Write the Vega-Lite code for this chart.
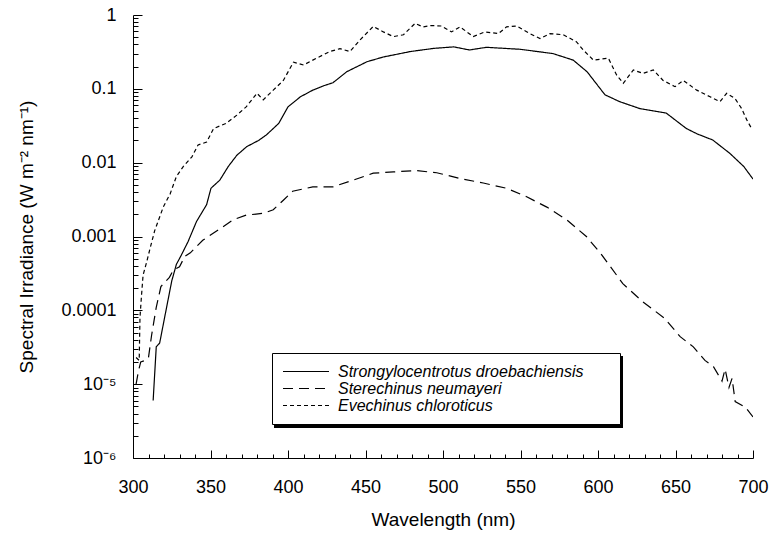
{
  "$schema": "https://vega.github.io/schema/vega-lite/v6.json",
  "width": 620,
  "height": 443,
  "autosize": {"type": "none"},
  "padding": {"left": 133, "top": 15, "right": 18, "bottom": 75},
  "background": "white",
  "config": {
    "view": {"stroke": null},
    "font": "Liberation Sans",
    "axis": {
      "domainColor": "#000000",
      "tickColor": "#000000",
      "labelColor": "#000000",
      "titleColor": "#000000",
      "labelFontSize": 18,
      "titleFontSize": 19,
      "titleFontWeight": "normal",
      "grid": false,
      "labelOverlap": false,
      "labelFlush": false
    }
  },
  "data": {
    "values": [
      {"species": "Strongylocentrotus droebachiensis", "wl": 313, "v": 0.000006},
      {"species": "Strongylocentrotus droebachiensis", "wl": 315, "v": 0.000032},
      {"species": "Strongylocentrotus droebachiensis", "wl": 317.2, "v": 0.000036},
      {"species": "Strongylocentrotus droebachiensis", "wl": 320.5, "v": 0.000082},
      {"species": "Strongylocentrotus droebachiensis", "wl": 325, "v": 0.00025},
      {"species": "Strongylocentrotus droebachiensis", "wl": 328, "v": 0.00042},
      {"species": "Strongylocentrotus droebachiensis", "wl": 331, "v": 0.00055},
      {"species": "Strongylocentrotus droebachiensis", "wl": 335.5, "v": 0.00085},
      {"species": "Strongylocentrotus droebachiensis", "wl": 341, "v": 0.0016},
      {"species": "Strongylocentrotus droebachiensis", "wl": 347.5, "v": 0.0027},
      {"species": "Strongylocentrotus droebachiensis", "wl": 350.3, "v": 0.0045},
      {"species": "Strongylocentrotus droebachiensis", "wl": 356, "v": 0.0058},
      {"species": "Strongylocentrotus droebachiensis", "wl": 361.5, "v": 0.0089},
      {"species": "Strongylocentrotus droebachiensis", "wl": 367, "v": 0.0126},
      {"species": "Strongylocentrotus droebachiensis", "wl": 373.4, "v": 0.0165},
      {"species": "Strongylocentrotus droebachiensis", "wl": 381, "v": 0.02},
      {"species": "Strongylocentrotus droebachiensis", "wl": 386, "v": 0.0237},
      {"species": "Strongylocentrotus droebachiensis", "wl": 394, "v": 0.034},
      {"species": "Strongylocentrotus droebachiensis", "wl": 400, "v": 0.057},
      {"species": "Strongylocentrotus droebachiensis", "wl": 408, "v": 0.078},
      {"species": "Strongylocentrotus droebachiensis", "wl": 416, "v": 0.096},
      {"species": "Strongylocentrotus droebachiensis", "wl": 423, "v": 0.11},
      {"species": "Strongylocentrotus droebachiensis", "wl": 429, "v": 0.121},
      {"species": "Strongylocentrotus droebachiensis", "wl": 438, "v": 0.171},
      {"species": "Strongylocentrotus droebachiensis", "wl": 451, "v": 0.233},
      {"species": "Strongylocentrotus droebachiensis", "wl": 461.5, "v": 0.27},
      {"species": "Strongylocentrotus droebachiensis", "wl": 479, "v": 0.32},
      {"species": "Strongylocentrotus droebachiensis", "wl": 494, "v": 0.353},
      {"species": "Strongylocentrotus droebachiensis", "wl": 507, "v": 0.37},
      {"species": "Strongylocentrotus droebachiensis", "wl": 517, "v": 0.336},
      {"species": "Strongylocentrotus droebachiensis", "wl": 528, "v": 0.365},
      {"species": "Strongylocentrotus droebachiensis", "wl": 550, "v": 0.343},
      {"species": "Strongylocentrotus droebachiensis", "wl": 571, "v": 0.3},
      {"species": "Strongylocentrotus droebachiensis", "wl": 584, "v": 0.245},
      {"species": "Strongylocentrotus droebachiensis", "wl": 593, "v": 0.17},
      {"species": "Strongylocentrotus droebachiensis", "wl": 604.5, "v": 0.083},
      {"species": "Strongylocentrotus droebachiensis", "wl": 614, "v": 0.067},
      {"species": "Strongylocentrotus droebachiensis", "wl": 627, "v": 0.054},
      {"species": "Strongylocentrotus droebachiensis", "wl": 644, "v": 0.047},
      {"species": "Strongylocentrotus droebachiensis", "wl": 657, "v": 0.029},
      {"species": "Strongylocentrotus droebachiensis", "wl": 664, "v": 0.0245},
      {"species": "Strongylocentrotus droebachiensis", "wl": 674, "v": 0.0203},
      {"species": "Strongylocentrotus droebachiensis", "wl": 685, "v": 0.0134},
      {"species": "Strongylocentrotus droebachiensis", "wl": 694, "v": 0.0089},
      {"species": "Strongylocentrotus droebachiensis", "wl": 700, "v": 0.006},

      {"species": "Sterechinus neumayeri", "wl": 302, "v": 0.00001},
      {"species": "Sterechinus neumayeri", "wl": 303.5, "v": 0.000015},
      {"species": "Sterechinus neumayeri", "wl": 305, "v": 0.00002},
      {"species": "Sterechinus neumayeri", "wl": 308, "v": 0.000021},
      {"species": "Sterechinus neumayeri", "wl": 310, "v": 0.000023},
      {"species": "Sterechinus neumayeri", "wl": 312, "v": 0.000046},
      {"species": "Sterechinus neumayeri", "wl": 315, "v": 0.00011},
      {"species": "Sterechinus neumayeri", "wl": 318, "v": 0.00021},
      {"species": "Sterechinus neumayeri", "wl": 323.5, "v": 0.00028},
      {"species": "Sterechinus neumayeri", "wl": 326, "v": 0.00035},
      {"species": "Sterechinus neumayeri", "wl": 330, "v": 0.00039},
      {"species": "Sterechinus neumayeri", "wl": 333.5, "v": 0.00054},
      {"species": "Sterechinus neumayeri", "wl": 337, "v": 0.0006},
      {"species": "Sterechinus neumayeri", "wl": 345, "v": 0.00089},
      {"species": "Sterechinus neumayeri", "wl": 358, "v": 0.00135},
      {"species": "Sterechinus neumayeri", "wl": 365, "v": 0.0017},
      {"species": "Sterechinus neumayeri", "wl": 373, "v": 0.00195},
      {"species": "Sterechinus neumayeri", "wl": 384, "v": 0.00206},
      {"species": "Sterechinus neumayeri", "wl": 390.5, "v": 0.0023},
      {"species": "Sterechinus neumayeri", "wl": 397, "v": 0.0031},
      {"species": "Sterechinus neumayeri", "wl": 403, "v": 0.0041},
      {"species": "Sterechinus neumayeri", "wl": 416, "v": 0.0047},
      {"species": "Sterechinus neumayeri", "wl": 429, "v": 0.0047},
      {"species": "Sterechinus neumayeri", "wl": 442, "v": 0.0058},
      {"species": "Sterechinus neumayeri", "wl": 455, "v": 0.0072},
      {"species": "Sterechinus neumayeri", "wl": 468, "v": 0.0075},
      {"species": "Sterechinus neumayeri", "wl": 483, "v": 0.0078},
      {"species": "Sterechinus neumayeri", "wl": 496, "v": 0.0073},
      {"species": "Sterechinus neumayeri", "wl": 511, "v": 0.0061},
      {"species": "Sterechinus neumayeri", "wl": 526, "v": 0.0053},
      {"species": "Sterechinus neumayeri", "wl": 541, "v": 0.0045},
      {"species": "Sterechinus neumayeri", "wl": 554, "v": 0.00345},
      {"species": "Sterechinus neumayeri", "wl": 567, "v": 0.0025},
      {"species": "Sterechinus neumayeri", "wl": 580, "v": 0.00167},
      {"species": "Sterechinus neumayeri", "wl": 592.5, "v": 0.001},
      {"species": "Sterechinus neumayeri", "wl": 602, "v": 0.00058},
      {"species": "Sterechinus neumayeri", "wl": 616, "v": 0.00023},
      {"species": "Sterechinus neumayeri", "wl": 629, "v": 0.00013},
      {"species": "Sterechinus neumayeri", "wl": 643, "v": 0.000078},
      {"species": "Sterechinus neumayeri", "wl": 653, "v": 0.000044},
      {"species": "Sterechinus neumayeri", "wl": 661.5, "v": 0.000032},
      {"species": "Sterechinus neumayeri", "wl": 669, "v": 0.000021},
      {"species": "Sterechinus neumayeri", "wl": 674.5, "v": 0.0000173},
      {"species": "Sterechinus neumayeri", "wl": 680, "v": 0.000011},
      {"species": "Sterechinus neumayeri", "wl": 682, "v": 0.000016},
      {"species": "Sterechinus neumayeri", "wl": 684.5, "v": 0.000009},
      {"species": "Sterechinus neumayeri", "wl": 686.5, "v": 0.000012},
      {"species": "Sterechinus neumayeri", "wl": 688.5, "v": 0.0000058},
      {"species": "Sterechinus neumayeri", "wl": 695, "v": 0.0000049},
      {"species": "Sterechinus neumayeri", "wl": 700, "v": 0.0000036},

      {"species": "Evechinus chloroticus", "wl": 302, "v": 0.000023},
      {"species": "Evechinus chloroticus", "wl": 304, "v": 0.000021},
      {"species": "Evechinus chloroticus", "wl": 304.5, "v": 0.00008},
      {"species": "Evechinus chloroticus", "wl": 305.4, "v": 0.00015},
      {"species": "Evechinus chloroticus", "wl": 306.5, "v": 0.0003},
      {"species": "Evechinus chloroticus", "wl": 308.8, "v": 0.00045},
      {"species": "Evechinus chloroticus", "wl": 310.7, "v": 0.00065},
      {"species": "Evechinus chloroticus", "wl": 314, "v": 0.0012},
      {"species": "Evechinus chloroticus", "wl": 319.5, "v": 0.0025},
      {"species": "Evechinus chloroticus", "wl": 324, "v": 0.0038},
      {"species": "Evechinus chloroticus", "wl": 328, "v": 0.0065},
      {"species": "Evechinus chloroticus", "wl": 332.5, "v": 0.0089},
      {"species": "Evechinus chloroticus", "wl": 338, "v": 0.012},
      {"species": "Evechinus chloroticus", "wl": 342, "v": 0.0174},
      {"species": "Evechinus chloroticus", "wl": 347.5, "v": 0.019},
      {"species": "Evechinus chloroticus", "wl": 352, "v": 0.029},
      {"species": "Evechinus chloroticus", "wl": 360, "v": 0.034},
      {"species": "Evechinus chloroticus", "wl": 367, "v": 0.044},
      {"species": "Evechinus chloroticus", "wl": 373, "v": 0.057},
      {"species": "Evechinus chloroticus", "wl": 380, "v": 0.087},
      {"species": "Evechinus chloroticus", "wl": 384, "v": 0.071},
      {"species": "Evechinus chloroticus", "wl": 390.5, "v": 0.096},
      {"species": "Evechinus chloroticus", "wl": 397, "v": 0.13},
      {"species": "Evechinus chloroticus", "wl": 403.5, "v": 0.23},
      {"species": "Evechinus chloroticus", "wl": 410, "v": 0.21},
      {"species": "Evechinus chloroticus", "wl": 416, "v": 0.245},
      {"species": "Evechinus chloroticus", "wl": 427, "v": 0.32},
      {"species": "Evechinus chloroticus", "wl": 433.5, "v": 0.35},
      {"species": "Evechinus chloroticus", "wl": 440, "v": 0.32},
      {"species": "Evechinus chloroticus", "wl": 446.5, "v": 0.46},
      {"species": "Evechinus chloroticus", "wl": 455, "v": 0.7},
      {"species": "Evechinus chloroticus", "wl": 461.5, "v": 0.59},
      {"species": "Evechinus chloroticus", "wl": 468, "v": 0.51},
      {"species": "Evechinus chloroticus", "wl": 474.5, "v": 0.54},
      {"species": "Evechinus chloroticus", "wl": 482, "v": 0.77},
      {"species": "Evechinus chloroticus", "wl": 487, "v": 0.69},
      {"species": "Evechinus chloroticus", "wl": 492, "v": 0.72},
      {"species": "Evechinus chloroticus", "wl": 499, "v": 0.71},
      {"species": "Evechinus chloroticus", "wl": 505.5, "v": 0.59},
      {"species": "Evechinus chloroticus", "wl": 511, "v": 0.69},
      {"species": "Evechinus chloroticus", "wl": 519.5, "v": 0.51},
      {"species": "Evechinus chloroticus", "wl": 527, "v": 0.59},
      {"species": "Evechinus chloroticus", "wl": 535.7, "v": 0.56},
      {"species": "Evechinus chloroticus", "wl": 541, "v": 0.69},
      {"species": "Evechinus chloroticus", "wl": 547.5, "v": 0.71},
      {"species": "Evechinus chloroticus", "wl": 556, "v": 0.56},
      {"species": "Evechinus chloroticus", "wl": 562.6, "v": 0.48},
      {"species": "Evechinus chloroticus", "wl": 569, "v": 0.56},
      {"species": "Evechinus chloroticus", "wl": 577.6, "v": 0.54},
      {"species": "Evechinus chloroticus", "wl": 586, "v": 0.435},
      {"species": "Evechinus chloroticus", "wl": 590.5, "v": 0.336},
      {"species": "Evechinus chloroticus", "wl": 597, "v": 0.245},
      {"species": "Evechinus chloroticus", "wl": 606.7, "v": 0.26},
      {"species": "Evechinus chloroticus", "wl": 612, "v": 0.154},
      {"species": "Evechinus chloroticus", "wl": 616.3, "v": 0.119},
      {"species": "Evechinus chloroticus", "wl": 622.8, "v": 0.18},
      {"species": "Evechinus chloroticus", "wl": 629, "v": 0.162},
      {"species": "Evechinus chloroticus", "wl": 635.7, "v": 0.18},
      {"species": "Evechinus chloroticus", "wl": 642, "v": 0.13},
      {"species": "Evechinus chloroticus", "wl": 649.7, "v": 0.107},
      {"species": "Evechinus chloroticus", "wl": 655, "v": 0.13},
      {"species": "Evechinus chloroticus", "wl": 663.7, "v": 0.096},
      {"species": "Evechinus chloroticus", "wl": 672.3, "v": 0.078},
      {"species": "Evechinus chloroticus", "wl": 678.7, "v": 0.067},
      {"species": "Evechinus chloroticus", "wl": 683, "v": 0.087},
      {"species": "Evechinus chloroticus", "wl": 688.4, "v": 0.074},
      {"species": "Evechinus chloroticus", "wl": 692.7, "v": 0.054},
      {"species": "Evechinus chloroticus", "wl": 696, "v": 0.038},
      {"species": "Evechinus chloroticus", "wl": 699.5, "v": 0.028}
    ]
  },
  "layer": [
    {
      "mark": {"type": "line", "color": "#000000", "strokeWidth": 1.2, "clip": true},
      "encoding": {
        "x": {
          "field": "wl",
          "type": "quantitative",
          "scale": {"domain": [300, 700], "nice": false, "zero": false},
          "axis": {
            "title": "Wavelength (nm)",
            "values": [300,310,320,330,340,350,360,370,380,390,400,410,420,430,440,450,460,470,480,490,500,510,520,530,540,550,560,570,580,590,600,610,620,630,640,650,660,670,680,690,700],
            "labelExpr": "datum.value % 50 == 0 ? '' + datum.value : ''",
            "tickSize": -8,
            "tickDash": {"condition": {"test": "datum.value % 50 == 0", "value": [8, 0]}, "value": [4, 20]},
            "labelPadding": 28,
            "titlePadding": 14
          }
        },
        "y": {
          "field": "v",
          "type": "quantitative",
          "scale": {"type": "log", "domain": [0.000001, 1], "nice": false},
          "axis": {
            "title": "Spectral Irradiance (W m⁻² nm⁻¹)",
            "values": [0.000001,0.000002,0.000003,0.000004,0.000005,0.000006,0.000007,0.000008,0.000009,0.00001,0.00002,0.00003,0.00004,0.00005,0.00006,0.00007,0.00008,0.00009,0.0001,0.0002,0.0003,0.0004,0.0005,0.0006,0.0007,0.0008,0.0009,0.001,0.002,0.003,0.004,0.005,0.006,0.007,0.008,0.009,0.01,0.02,0.03,0.04,0.05,0.06,0.07,0.08,0.09,0.1,0.2,0.3,0.4,0.5,0.6,0.7,0.8,0.9,1],
            "labelExpr": "datum.value == 0.00001 ? '10⁻⁵' : datum.value == 0.000001 ? '10⁻⁶' : indexof([1,0.1,0.01,0.001,0.0001], datum.value) >= 0 ? '' + datum.value : ''",
            "tickSize": -9,
            "tickDash": {"condition": {"test": "indexof([1,0.1,0.01,0.001,0.0001,0.00001,0.000001], datum.value) >= 0", "value": [9, 0]}, "value": [5, 20]},
            "labelPadding": 26,
            "titlePadding": 24
          }
        },
        "strokeDash": {
          "field": "species",
          "type": "nominal",
          "scale": {
            "domain": ["Strongylocentrotus droebachiensis", "Sterechinus neumayeri", "Evechinus chloroticus"],
            "range": [[1, 0], [10, 6], [4, 3]]
          },
          "legend": {
            "title": " ",
            "titleOrient": "right",
            "titlePadding": 27,
            "orient": "none",
            "legendX": 139,
            "legendY": 338,
            "symbolType": "stroke",
            "symbolSize": 2116,
            "symbolStrokeWidth": 1.2,
            "symbolStrokeColor": "#000000",
            "clipHeight": 17,
            "rowPadding": 0,
            "labelOffset": 8,
            "labelFontSize": 16,
            "labelFontStyle": "italic",
            "labelColor": "#000000",
            "labelLimit": 400,
            "padding": 10,
            "fillColor": "#ffffff",
            "strokeColor": "#000000"
          }
        }
      }
    },
    {
      "mark": {"type": "rect", "color": "#000000", "opacity": 1},
      "encoding": {
        "x": {
          "datum": 391.6,
          "type": "quantitative",
          "axis": {
            "title": "Wavelength (nm)",
            "values": [300,310,320,330,340,350,360,370,380,390,400,410,420,430,440,450,460,470,480,490,500,510,520,530,540,550,560,570,580,590,600,610,620,630,640,650,660,670,680,690,700],
            "labelExpr": "datum.value % 50 == 0 ? '' + datum.value : ''",
            "tickSize": -8,
            "tickDash": {"condition": {"test": "datum.value % 50 == 0", "value": [8, 0]}, "value": [4, 20]},
            "labelPadding": 28,
            "titlePadding": 14
          }
        },
        "x2": {"datum": 616.1},
        "y": {
          "datum": 0.0000241,
          "type": "quantitative",
          "axis": {
            "title": "Spectral Irradiance (W m⁻² nm⁻¹)",
            "values": [0.000001,0.000002,0.000003,0.000004,0.000005,0.000006,0.000007,0.000008,0.000009,0.00001,0.00002,0.00003,0.00004,0.00005,0.00006,0.00007,0.00008,0.00009,0.0001,0.0002,0.0003,0.0004,0.0005,0.0006,0.0007,0.0008,0.0009,0.001,0.002,0.003,0.004,0.005,0.006,0.007,0.008,0.009,0.01,0.02,0.03,0.04,0.05,0.06,0.07,0.08,0.09,0.1,0.2,0.3,0.4,0.5,0.6,0.7,0.8,0.9,1],
            "labelExpr": "datum.value == 0.00001 ? '10⁻⁵' : datum.value == 0.000001 ? '10⁻⁶' : indexof([1,0.1,0.01,0.001,0.0001], datum.value) >= 0 ? '' + datum.value : ''",
            "tickSize": -9,
            "tickDash": {"condition": {"test": "indexof([1,0.1,0.01,0.001,0.0001,0.00001,0.000001], datum.value) >= 0", "value": [9, 0]}, "value": [5, 20]},
            "labelPadding": 26,
            "titlePadding": 24
          }
        },
        "y2": {"datum": 0.00000255}
      }
    }
  ]
}
